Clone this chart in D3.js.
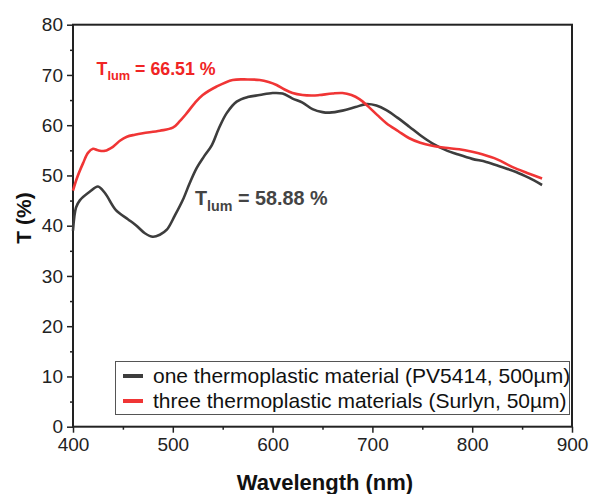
<!DOCTYPE html>
<html>
<head>
<meta charset="utf-8">
<script src="https://cdn.jsdelivr.net/npm/d3@7"></script>
<style>
  body { margin: 0; background: #fff; }
  svg { display: block; font-family: "Liberation Sans", Arial, sans-serif; }
</style>
</head>
<body>
<div id="chart"></div>
<script>
// Data
var wlBlack = [400, 403, 407, 417, 425, 432, 443, 455, 463, 472, 480, 487, 494, 502, 510, 517, 524, 531, 539, 546, 554, 564, 575, 587, 600, 610, 620, 630, 640, 650, 657, 670, 683, 694, 704, 714, 725, 737, 748, 760, 773, 787, 800, 814, 828, 844, 857, 870];
var tBlack = [39.0, 43.6, 45.1, 46.8, 47.8, 46.5, 43.1, 41.3, 40.1, 38.5, 37.8, 38.2, 39.2, 42.0, 45.1, 48.5, 51.5, 53.7, 56.0, 59.3, 62.4, 64.7, 65.6, 66.0, 66.4, 66.3, 65.3, 64.5, 63.2, 62.6, 62.5, 62.9, 63.6, 64.2, 63.9, 63.0, 61.5, 59.7, 58.0, 56.4, 55.1, 54.1, 53.3, 52.7, 51.8, 50.7, 49.5, 48.1];

var wlRed = [400, 404, 410, 415, 420, 425, 432, 440, 447, 454, 462, 470, 487, 500, 507, 514, 522, 530, 544, 560, 575, 587, 596, 604, 612, 620, 630, 640, 647, 660, 670, 679, 687, 696, 705, 714, 726, 737, 748, 760, 773, 787, 800, 810, 825, 840, 855, 870];
var tRed = [47.0, 49.5, 52.4, 54.5, 55.3, 55.0, 54.9, 55.7, 56.9, 57.7, 58.1, 58.4, 58.9, 59.5, 60.8, 62.4, 64.4, 66.0, 67.7, 69.0, 69.1, 69.0, 68.6, 68.0, 67.1, 66.4, 66.0, 65.9, 66.0, 66.3, 66.4, 66.0, 65.2, 63.7, 62.0, 60.4, 58.8, 57.4, 56.5, 55.9, 55.5, 55.2, 54.7, 54.2, 53.2, 51.7, 50.5, 49.4];

var seriesNames = ['one thermoplastic material (PV5414, 500\u00b5m)', 'three thermoplastic materials (Surlyn, 50\u00b5m)'];
var seriesColors = ['#3d3d3d', '#f03535'];
var xTicks = [400, 500, 600, 700, 800, 900];
var yTicks = [0, 10, 20, 30, 40, 50, 60, 70, 80];

var svgWidth = 589;
var svgHeight = 494;

var margin = { top: 24.7, right: 17, bottom: 67.3, left: 73 };
var chartWidth = svgWidth - margin.left - margin.right;
var chartHeight = svgHeight - margin.top - margin.bottom;

var svg = d3.select('#chart')
    .append('svg')
    .attr('width', svgWidth)
    .attr('height', svgHeight);

var chartGroup = svg.append('g')
    .attr('transform', `translate(${margin.left}, ${margin.top})`);

var xScale = d3.scaleLinear().domain([400, 900]).range([0, chartWidth]);
var yScale = d3.scaleLinear().domain([0, 80]).range([chartHeight, 0]);

// Minor ticks
var xMinor = d3.range(450, 900, 100);
var yMinor = d3.range(5, 80, 10);

chartGroup.append('g')
    .attr('transform', `translate(0, ${chartHeight})`)
    .call(d3.axisBottom(xScale).tickValues(xMinor).tickSize(3).tickFormat(''))
    .call(g => g.select('.domain').remove())
    .selectAll('line').attr('stroke', '#222').attr('stroke-width', 1.5);

chartGroup.append('g')
    .call(d3.axisLeft(yScale).tickValues(yMinor).tickSize(3).tickFormat(''))
    .call(g => g.select('.domain').remove())
    .selectAll('line').attr('stroke', '#222').attr('stroke-width', 1.5);

// Major axes
var xAxis = chartGroup.append('g')
    .attr('transform', `translate(0, ${chartHeight})`)
    .call(d3.axisBottom(xScale).tickValues(xTicks).tickSize(6).tickPadding(5).tickSizeOuter(0));

var yAxis = chartGroup.append('g')
    .call(d3.axisLeft(yScale).tickValues(yTicks).tickSize(6).tickPadding(4).tickSizeOuter(0));

[xAxis, yAxis].forEach(function(ax) {
    ax.select('.domain').remove();
    ax.selectAll('line').attr('stroke', '#222').attr('stroke-width', 1.5);
    ax.selectAll('text')
        .attr('fill', '#222')
        .style('font-size', '19px');
});

// Frame
chartGroup.append('rect')
    .attr('x', 0)
    .attr('y', 0)
    .attr('width', chartWidth)
    .attr('height', chartHeight)
    .attr('fill', 'none')
    .attr('stroke', '#222')
    .attr('stroke-width', 2);

// Lines
var line = d3.line()
    .x((d) => xScale(d[0]))
    .y((d) => yScale(d[1]))
    .curve(d3.curveCatmullRom.alpha(0.5));

var blackData = wlBlack.map((w, i) => [w, tBlack[i]]);
var redData = wlRed.map((w, i) => [w, tRed[i]]);

chartGroup.append('path')
    .datum(blackData)
    .attr('d', line)
    .attr('fill', 'none')
    .attr('stroke', seriesColors[0])
    .attr('stroke-width', 2.6);

chartGroup.append('path')
    .datum(redData)
    .attr('d', line)
    .attr('fill', 'none')
    .attr('stroke', seriesColors[1])
    .attr('stroke-width', 2.6);

// Annotations
function tlum(x, y, size, color, value) {
    var t = svg.append('text')
        .attr('x', x)
        .attr('y', y)
        .attr('fill', color)
        .style('font-weight', 'bold')
        .style('font-size', size + 'px');
    t.append('tspan').text('T');
    t.append('tspan')
        .attr('dy', size * 0.28)
        .style('font-size', (size * 0.72) + 'px')
        .text('lum');
    t.append('tspan')
        .attr('dy', -size * 0.28)
        .text(' = ' + value + ' %');
}
tlum(96.5, 75, 17.8, '#f02525', '66.51');
tlum(195, 205, 19.8, '#444444', '58.88');

// Axis titles
svg.append('text')
    .attr('x', 325)
    .attr('y', 490)
    .attr('text-anchor', 'middle')
    .attr('fill', '#111')
    .style('font-weight', 'bold')
    .style('font-size', '22px')
    .text('Wavelength (nm)');

svg.append('text')
    .attr('transform', 'translate(31, 218) rotate(-90)')
    .attr('text-anchor', 'middle')
    .attr('fill', '#111')
    .style('font-weight', 'bold')
    .style('font-size', '21px')
    .text('T (%)');

// Legend
var legend = svg.append('g');
legend.append('rect')
    .attr('x', 115.5)
    .attr('y', 361.5)
    .attr('width', 454)
    .attr('height', 53)
    .attr('fill', '#fff')
    .attr('stroke', '#555')
    .attr('stroke-width', 1);

seriesNames.forEach(function(name, i) {
    var cy = 376 + i * 25;
    legend.append('line')
        .attr('x1', 123)
        .attr('x2', 143)
        .attr('y1', cy)
        .attr('y2', cy)
        .attr('stroke', seriesColors[i])
        .attr('stroke-width', 4);
    legend.append('text')
        .attr('x', 153)
        .attr('y', cy + 7)
        .attr('fill', '#111')
        .style('font-size', '21px')
        .text(name);
});
</script>
</body>
</html>
